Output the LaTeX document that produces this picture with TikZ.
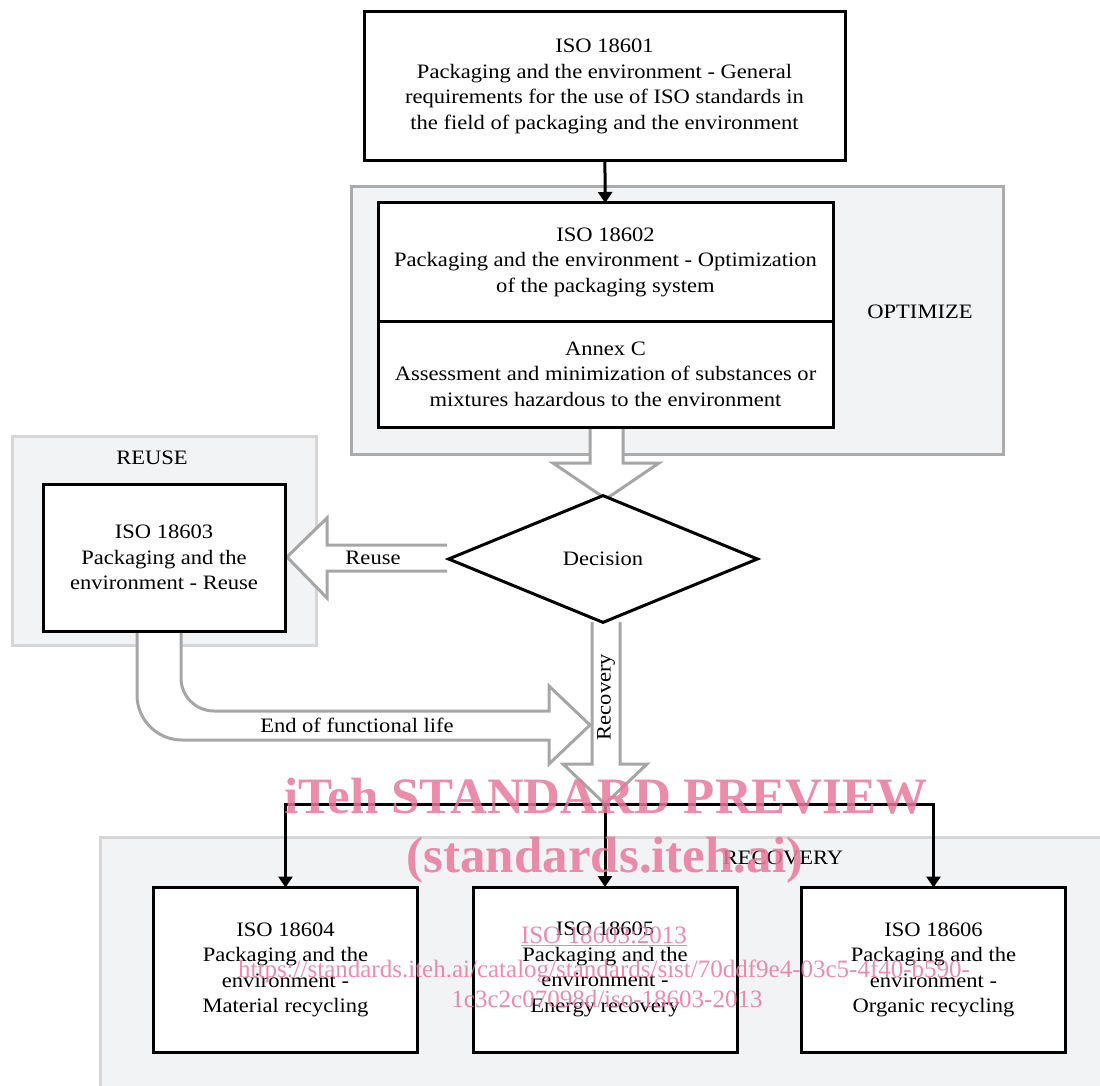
\documentclass[tikz,border=0pt]{standalone}
\usepackage{fontspec}
\setmainfont[FakeStretch=1.1]{Liberation Serif}
\newfontfamily\wmfont{Liberation Serif}
\usetikzlibrary{shapes.geometric,arrows.meta}
\definecolor{grpfill}{HTML}{F2F3F5}
\definecolor{optline}{HTML}{ABABAB}
\definecolor{grpline}{HTML}{D6D6D6}
\definecolor{arrgray}{HTML}{A6A6A6}
\definecolor{wmpink}{HTML}{E9789C}

\begin{document}
\begin{tikzpicture}[x=1pt,y=-1pt,
  txt/.style={font=\fontsize{20.5}{25.5}\selectfont, align=center},
  box/.style={txt, draw, line width=3pt, fill=white, inner sep=0pt, outer sep=0pt},
  grp/.style={fill=grpfill, line width=3pt},
  hollow/.style={draw=arrgray, fill=white, line width=3pt},
  conn/.style={line width=3pt, -{Triangle[width=14pt,length=11pt]}},
  wm/.style={text=wmpink, text opacity=0.85, inner sep=0pt, anchor=base}]
\useasboundingbox (0,0) rectangle (1100,1086);

%groupes
\draw[grp, draw=optline] (351,187) rectangle (1003,454);
\draw[grp, draw=grpline] (12,436) rectangle (316,645);
\draw[grp, draw=grpline] (100,837) rectangle (1115,1100);

%fleches creuses
\draw[hollow] (590,427) -- (590,463) -- (553,463) -- (606,499) -- (659,463) -- (623,463) -- (623,427);
\draw[hollow] (447,545) -- (327,545) -- (327,518) -- (287,557) -- (327,598) -- (327,571) -- (447,571);
\draw[hollow] (592,622) -- (592,764) -- (563,764) -- (605,804) -- (647,764) -- (620,764) -- (620,622);
\draw[hollow] (181,631) -- (181,678) arc[start angle=180,end angle=90,radius=33] -- (549,711) -- (549,686)
  -- (590,725) -- (549,764) -- (549,740) -- (182,740) arc[start angle=90,end angle=180,radius=45] -- (137,631);

%boites
\node[box, minimum width=481pt, minimum height=149pt] (iso1) at (604.5,86.5)
  {ISO 18601\\Packaging and the environment - General\\requirements for the use of ISO standards in\\the field of packaging and the environment};
\node[box, minimum width=455pt, minimum height=118pt] (iso2) at (605.5,262)
  {ISO 18602\\Packaging and the environment - Optimization\\of the packaging system};
\node[box, minimum width=455pt, minimum height=106pt, anchor=north] (annex) at (iso2.south)
  {Annex C\\Assessment and minimization of substances or\\mixtures hazardous to the environment};
\node[box, minimum width=242pt, minimum height=147pt] (iso3) at (164,557.5)
  {ISO 18603\\Packaging and the\\environment - Reuse};
\node[diamond, draw, line width=3pt, fill=white, inner sep=0pt, minimum width=310pt, minimum height=128pt,
  font=\fontsize{20.5}{25.5}\selectfont] (dec) at (603,559) {Decision};
\node[box, minimum width=264pt, minimum height=165pt] (iso4) at (285.5,970)
  {ISO 18604\\Packaging and the\\environment -\\Material recycling};
\node[box, minimum width=264pt, minimum height=165pt] (iso5) at (605,969.5)
  {ISO 18605\\Packaging and the\\environment -\\Energy recovery};
\node[box, minimum width=264pt, minimum height=165pt] (iso6) at (933.5,970)
  {ISO 18606\\Packaging and the\\environment -\\Organic recycling};

%liaisons
\coordinate (split) at (605,804);
\draw[conn] (iso1) -- (iso2);
\draw[conn] (split) -| (iso4.north);
\draw[conn] (split) -- (iso5.north);
\draw[conn] (split) -| (iso6.north);

%etiquettes
\node[txt] (lopt) at (920,312) {OPTIMIZE};
\node[txt] (lreu) at (152,458) {REUSE};
\node[txt] (lrcv) at (783,858) {RECOVERY};
\node[txt] (lreuse) at (373,558) {Reuse};
\node[txt, rotate=90] (lrec) at (606,697) {Recovery};
\node[txt] (leol) at (357,725) {End of functional life};

%filigrane
\node[wm, font=\wmfont\bfseries\fontsize{51}{51}\selectfont] (wm1) at (606,813) {iTeh STANDARD PREVIEW};
\node[wm, font=\wmfont\bfseries\fontsize{51}{51}\selectfont] (wm2) at (605,872) {(standards.iteh.ai)};
\node[wm, font=\wmfont\fontsize{25}{25}\selectfont] (wm3) at (604,943) {\underline{ISO 18603:2013}};
\node[wm, font=\wmfont\fontsize{25}{25}\selectfont] (wm4) at (604,977)
  {https://standards.iteh.ai/catalog/standards/sist/70ddf9e4-03c5-4f40-b590-};
\node[wm, font=\wmfont\fontsize{25}{25}\selectfont] (wm5) at (607,1007) {1c3c2c07098d/iso-18603-2013};
\end{tikzpicture}
\end{document}
